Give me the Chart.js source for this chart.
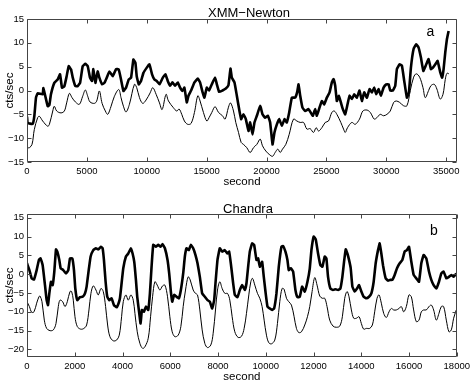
<!DOCTYPE html>
<html><head><meta charset="utf-8">
<script src="https://cdn.jsdelivr.net/npm/chart.js@4"></script>
<style>
html,body{margin:0;padding:0;background:#fff;}
#wrap{position:relative;width:474px;height:384px;background:#fff;}
canvas{position:absolute;left:0;}
</style></head><body>
<div id="wrap">
<canvas id="c1" width="474" height="192" style="top:0;width:474px;height:192px"></canvas>
<canvas id="c2" width="474" height="192" style="top:192px;width:474px;height:192px"></canvas>
</div>
<script>
// ---------- XMM-Newton (panel a) ----------
const xmmThickT = [0,60,470,610,750,890,1310,1365,1530,1730,1870,2000,2280,2560,2760,2920,3120,3310,3480,3680,3820,4040,4230,4430,4650,4870,5070,5260,5430,5540,5710,5900,6040,6270,6460,6660,6880,7160,7440,7660,7850,8050,8270,8490,8690,8880,9050,9160,9330,9520,9720,10000,10220,10440,10640,10830,11060,11340,11560,11750,11950,12140,12360,12590,12780,12980,13140,13340,13480,13700,13980,14260,14450,14650,14810,15010,15200,15430,15700,15850,16040,16320,16600,16820,16990,17100,17320,17520,17710,17880,18070,18270,18490,18630,18830,18990,19190,19470,19660,19880,20110,20300,20500,20660,20860,21050,21280,21500,21690,21890,22110,22390,22560,22670,22810,23000,23230,23500,23780,23865,24060,24199,24420,24617,24810,25034,25260,25452,25592,25731,25870,26037,26204,26370,26566,26760,26928,27123,27318,27540,27764,27960,28154,28376,28599,28794,28989,29156,29351,29546,29769,29992,30187,30326,30549,30744,30883,31106,31300,31495,31718,31885,32053,32275,32498,32693,32888,33090,33334,33529,33724,33887,34086,34281,34503,34660,34781,34921,35060,35200];
const xmmThickV = [-5.5,-6.8,-7,-5.4,-1.5,-0.6,-0.8,0.5,-1.2,-3.3,-3,-0.8,1.6,2.3,3.4,0.6,0.9,3,5.1,4.4,2.7,0.9,0.9,1.6,5.1,5.6,5.1,2.7,2,4.5,1.6,4,2.7,1.3,1.6,2.7,4,3,4.5,4.4,2.3,-0.1,0.6,2.3,2.7,6.5,5.8,3,1.3,2,3.7,4.8,5.5,3.4,2.3,2,1.3,2.7,3.4,2,1,1.7,1,1.7,0.6,-0.1,0.6,-2.5,-1.1,0,1.7,2.5,1.7,-0.3,-1.5,0.6,0,1.3,2.7,1.3,-0.3,0,0.4,1.1,4.6,2.7,1.7,-1.1,-3.9,-6,-5,-6,-8.5,-6.7,-9.2,-6.7,-5.3,-3.2,-5,-5.7,-5.3,-6.7,-11.3,-8.8,-7.1,-6,-7.4,-6,-6.7,-4.6,-1.5,-1.5,-0.3,1.3,-1.1,-3.6,-4.3,-3.9,-5,-5.3,-3.9,-5.3,-3.6,-2.2,-2.9,-1.5,-0.4,1.7,2.4,1,-2.2,-1.1,-2.5,-3.9,-5,-2.9,-1.1,-1.8,-0.8,-1.5,0,-2.2,-0.4,-1.5,0.3,-0.4,0.6,-0.8,0.3,-1.1,0.6,1.3,1.3,0,0,1,4.5,5.5,5.2,2,-1.5,-0.4,4.8,8.7,9.7,9,6.9,4.1,5.5,6.6,4.5,4.8,5.5,6.2,3.8,2.7,4.5,8,10.8,12.5];
const xmmThinT = [0,200,420,610,890,1030,1310,1730,1870,2150,2280,2480,2840,3120,3310,3540,3760,4040,4370,4650,4870,5070,5260,5630,5820,6040,6270,6540,6740,7020,7300,7660,7850,8050,8270,8550,8970,9160,9390,9660,9940,10280,10500,10780,11060,11280,11610,11810,12220,12500,12700,12920,13140,13420,13700,13980,14260,14450,14730,15010,15200,15430,15700,15990,16320,16540,16820,16990,17240,17430,17660,17880,18070,18350,18630,18910,19190,19470,19660,19940,20220,20500,20720,20940,21140,21330,21610,21890,22250,22530,22810,23090,23370,23640,23920,24140,24340,24620,24900,25170,25450,25650,25870,26200,26430,26570,26760,27120,27400,27760,28040,28380,28660,28990,29210,29490,29770,30050,30330,30610,30830,31110,31440,31720,32000,32280,32500,32780,33060,33250,33530,33720,34000,34220,34500,34730,34920,35060,35230];
const xmmThinV = [-12,-12,-11.3,-8.2,-5.7,-5.4,-6.4,-7.5,-7.1,-4.3,-3.3,-4.3,-4.7,-4.3,-2.6,-0.6,-1.5,-2.4,-2.9,-1.2,0.1,-1.2,-2.4,-2.7,-2.2,-0.1,-2.7,-4.3,-5,-3.3,-1.2,0.2,-1.5,-3.3,-4.5,-2.9,1.3,0.6,-1.5,-2.7,-2,-0.5,0.6,-0.8,-2.6,-4,-0.8,-2.2,-3.6,-4.3,-3.9,-5,-6.4,-7.1,-6.9,-4.6,-1.1,-2.2,-4.6,-6.4,-5.7,-4.6,-3.4,-4.6,-5.3,-6,-3.5,-2.6,-4.3,-6.7,-8.8,-10.9,-11.3,-12,-13,-12,-11.3,-10.2,-11.6,-12.7,-13.4,-13.8,-13,-12.3,-13,-12.3,-11.3,-9.2,-6,-6.4,-6.7,-6.7,-8.1,-8,-8.8,-7.8,-8.5,-7.8,-6.7,-6.4,-4.6,-4.3,-5,-6.7,-8.1,-8.8,-7.8,-6.7,-7.1,-6,-4.3,-4.1,-4.6,-6,-5.7,-5,-5.3,-5,-4.3,-2.5,-2.2,-2.5,-3.2,-3.2,0,2.8,3.5,2.8,0.6,-1.5,0,1,1.3,0.3,-1.8,-0.8,2.3,3.6,3.5];
const xmmXTicks = [0,5000,10000,15000,20000,25000,30000,35000];
const xmmYTicks = [-15,-10,-5,0,5,10,15];

// ---------- Chandra (panel b) ----------
const chThickT = [0,100,195,293,405,500,570,656,753,823,880,935,1004,1074,1144,1214,1270,1353,1409,1520,1632,1730,1800,1897,1967,2023,2106,2218,2330,2427,2497,2595,2665,2776,2888,2985,3097,3166,3222,3292,3362,3446,3543,3641,3753,3836,3892,3962,4032,4143,4241,4352,4422,4492,4562,4617,4701,4757,4813,4896,4980,5078,5148,5217,5287,5399,5496,5594,5678,5775,5886,5955,6025,6081,6165,6262,6360,6444,6541,6611,6681,6778,6862,6960,7057,7141,7239,7336,7448,7560,7657,7755,7839,7894,7978,8076,8173,8285,8397,8466,8536,8634,8704,8815,8913,9010,9122,9192,9262,9331,9429,9513,9610,9680,9750,9847,9917,9987,10071,10168,10266,10350,10447,10545,10656,10726,10824,10907,10963,11047,11145,11242,11326,11424,11521,11633,11745,11842,11912,12008,12092,12190,12287,12371,12469,12539,12608,12706,12818,12929,13027,13124,13208,13278,13348,13417,13487,13557,13627,13724,13822,13906,14003,14101,14212,14324,14422,14519,14603,14701,14771,14840,14910,15022,15119,15217,15301,15398,15496,15608,15719,15817,15914,15998,16096,16193,16305,16417,16514,16612,16724,16835,16933,17030,17142,17254,17351,17449,17561,17672,17770,17868,17979];
const chThickV = [2.9,1.1,-1.1,-1.4,1.1,3.8,4.2,2.4,-2.9,-6.9,-8.2,-5.1,-2,-2.9,0.7,6.6,6,3.8,1.6,1.1,0.2,1.1,4.2,4.2,1.1,-3.8,-6.9,-6.1,-6,-5.1,-3.3,1.6,4.7,6.4,6.9,6.6,7.3,6.9,3.8,-2,-6,-6.9,-6.4,-8.2,-8.8,-7.7,-6.4,-2.4,1.6,4.7,5.5,6.9,5.5,3.3,-1.5,-6,-10.4,-13.1,-9.5,-10,-8.6,-9.5,-5.1,2,7.8,7.3,7.8,7.3,8,6.9,3.8,0.2,-4.6,-7.3,-5.5,-6,-6.4,-4.2,0.2,4.7,6.9,6.4,7.8,6.9,5.1,2.9,-0.7,-5.1,-6,-6.9,-7.3,-9.1,-6.9,-2.4,3.8,6.9,6,6.4,5.5,6,2.9,-2.4,-5.5,-6.1,-4.2,-2.9,-4.2,-2.4,2,6,8.2,7.8,3.8,4.2,2,3.3,-0.7,-4.6,-8.6,-9.1,-9.5,-9.1,-5.1,2,7.3,7.5,6,3.8,1.1,1.6,0.7,-4.2,-6.1,-6,-3.3,-4.6,-2,1.5,6.4,10,9.3,5.5,2.4,2,4.7,4.2,-0.7,-3.8,-4.2,-4,-4.2,-3.8,-0.7,3.3,6.6,5.5,3.8,1.6,-3.3,-4.6,-3.8,-2.9,-4.6,-6,-6.4,-6,-5.1,-2,2.9,6.4,8.2,5.5,2.4,-1.1,-1.7,-1.5,-1.5,-0.2,1.6,2.9,3.8,6,6.4,7.3,3.3,-0.2,-1.1,-2,2.9,5.1,4.2,0.7,-1.5,-2.9,-3.8,-2,0.2,0.7,-1.1,-0.7,-0.2,-0.7,0.2];
const chThinT = [0,100,195,293,405,500,545,628,725,823,963,1102,1214,1311,1381,1493,1590,1688,1800,1869,1939,2009,2106,2246,2385,2497,2595,2678,2776,2888,2985,3097,3194,3292,3376,3473,3613,3753,3864,3962,4032,4143,4241,4352,4450,4520,4617,4729,4840,4938,5078,5175,5259,5357,5454,5566,5678,5775,5886,5983,6081,6193,6332,6444,6541,6639,6750,6834,6960,7057,7141,7239,7336,7448,7560,7699,7797,7894,7978,8076,8173,8285,8397,8494,8592,8704,8843,8983,9094,9192,9290,9373,9443,9541,9652,9750,9847,9931,10029,10126,10238,10377,10489,10587,10684,10768,10866,10963,11075,11187,11284,11382,11494,11633,11745,11842,11940,12050,12148,12260,12371,12469,12566,12678,12818,12957,13097,13208,13306,13403,13487,13585,13682,13794,13906,14003,14101,14212,14352,14464,14561,14659,14743,14840,14938,15050,15161,15259,15357,15468,15580,15677,15775,15887,15998,16096,16193,16305,16417,16514,16612,16724,16835,16933,17030,17142,17254,17351,17449,17561,17672,17770,17868,17979];
const chThinV = [-7.3,-8.6,-10.1,-10,-7.7,-6,-5.8,-7.3,-12.2,-14.4,-15,-14.8,-13.1,-8.6,-6.9,-7.3,-8.6,-7.3,-4.6,-4.6,-6.9,-11.3,-13.9,-14.6,-14.4,-13.5,-9.5,-5.1,-3.1,-4.2,-5.5,-3.8,-4.6,-8.6,-13.5,-16.6,-17.7,-17.5,-16.2,-11.3,-7.3,-5.5,-6.9,-5.5,-6.9,-10.4,-15.3,-18.4,-19.7,-19.3,-17,-11.3,-6,-2,-2.9,-4.2,-3.1,-2.9,-6,-11.3,-15.3,-16.6,-16.2,-13.9,-8.6,-4.2,-0.7,-1.5,-4.2,-5.1,-5.5,-9.5,-14.8,-18.4,-19.5,-18.8,-15.7,-9.5,-4.2,-2,-3.8,-5.1,-5.1,-6.9,-11.3,-15.3,-16.8,-16.5,-14.4,-10.4,-5.5,-2,-1.1,-2.9,-5.1,-6.4,-8.6,-12.2,-16.2,-18.2,-18.5,-17.5,-13.1,-7.3,-3.8,-4,-6.4,-7.3,-8.2,-11.3,-14.4,-15.5,-15.3,-13.5,-11.3,-8.6,-4.6,-0.9,-2.9,-5.8,-6.4,-6.4,-8.6,-12.2,-13.8,-14.1,-13.8,-11.3,-6.4,-4.6,-6,-9.5,-11.7,-11.7,-11.3,-13.1,-14.6,-14.4,-14.4,-13.5,-10,-6.4,-5.5,-7.7,-10.4,-11.5,-10,-9.1,-9.5,-9.5,-9.1,-8.6,-10,-8.6,-5.5,-6,-9.5,-12.6,-12.2,-10,-9.5,-9.5,-8.6,-8.2,-9.5,-12.2,-10.4,-8.6,-8.6,-12.2,-15.3,-14.8,-11.7,-9.5];
const chXTicks = [0,2000,4000,6000,8000,10000,12000,14000,16000,18000];
const chYTicks = [-20,-15,-10,-5,0,5,10,15];

const FONT = '"Liberation Sans", Arial, Helvetica, sans-serif';
const pts = (t, v) => t.map((x, i) => ({x: x, y: v[i]}));
const fmt = v => (v < 0 ? '\u2212' + Math.abs(v) : String(v));

const framePlugin = {
  id: 'frame',
  afterDraw(chart, args, o) {
    const ctx = chart.ctx;
    const a = chart.chartArea;
    const L = Math.round(a.left) + 0.5, R = Math.round(a.right) - 0.5;
    const T = Math.round(a.top) + 0.5, B = Math.round(a.bottom) - 0.5;
    ctx.save();
    ctx.strokeStyle = '#444';
    ctx.lineWidth = 1;
    ctx.beginPath();
    ctx.rect(L, T, R - L, B - T);
    const tl = 4;
    chart.scales.x.ticks.forEach(t => {
      const px = Math.round(chart.scales.x.getPixelForValue(t.value)) + 0.5;
      ctx.moveTo(px, B); ctx.lineTo(px, B - tl);
      ctx.moveTo(px, T); ctx.lineTo(px, T + tl);
    });
    chart.scales.y.ticks.forEach(t => {
      const py = Math.round(chart.scales.y.getPixelForValue(t.value)) + 0.5;
      ctx.moveTo(L, py); ctx.lineTo(L + tl, py);
      ctx.moveTo(R, py); ctx.lineTo(R - tl, py);
    });
    ctx.stroke();
    ctx.fillStyle = '#000';
    ctx.textAlign = 'center';
    ctx.textBaseline = 'alphabetic';
    ctx.font = '13px ' + FONT;
    ctx.fillText(o.title, o.titleX, o.titleY);
    ctx.font = '11.5px ' + FONT;
    ctx.fillText('second', (a.left + a.right) / 2, o.xlabY);
    ctx.save();
    ctx.translate(13, (a.top + a.bottom) / 2);
    ctx.rotate(-Math.PI / 2);
    ctx.fillText('cts/sec', 0, 0);
    ctx.restore();
    ctx.font = '14px ' + FONT;
    ctx.fillText(o.letter, o.letterX, o.letterY);
    ctx.restore();
  }
};

function makeChart(id, cfg) {
  return new Chart(document.getElementById(id), {
    type: 'line',
    data: {
      datasets: [
        {data: pts(cfg.thickT, cfg.thickV), borderColor: '#000', borderWidth: 2.6, pointRadius: 0, tension: 0.1, fill: false},
        {data: pts(cfg.thinT, cfg.thinV), borderColor: '#000', borderWidth: 1, pointRadius: 0, tension: 0.35, fill: false}
      ]
    },
    options: {
      responsive: false,
      animation: false,
      events: [],
      layout: {padding: {left: 0, right: 17, top: cfg.padTop, bottom: 0}},
      plugins: {legend: {display: false}, tooltip: {enabled: false}, title: {display: false},
        frame: cfg.frame},
      scales: {
        x: {
          type: 'linear', min: 0, max: cfg.xMax,
          afterBuildTicks: s => { s.ticks = cfg.xTicks.map(v => ({value: v})); },
          afterFit: s => { s.height = cfg.xAxisH; },
          grid: {display: false, drawTicks: false},
          border: {display: false},
          ticks: {color: '#000', font: {family: FONT, size: 9.5}, padding: 4, maxRotation: 0, autoSkip: false, callback: fmt}
        },
        y: {
          min: cfg.yMin, max: cfg.yMax,
          afterBuildTicks: s => { s.ticks = cfg.yTicks.map(v => ({value: v})); },
          afterFit: s => { s.width = 27; },
          grid: {display: false, drawTicks: false},
          border: {display: false},
          ticks: {color: '#000', font: {family: FONT, size: 9.5}, padding: 3, callback: fmt}
        }
      }
    },
    plugins: [framePlugin]
  });
}

makeChart('c1', {
  thickT: xmmThickT, thickV: xmmThickV, thinT: xmmThinT, thinV: xmmThinV,
  xMax: 35900, xTicks: xmmXTicks, yMin: -15, yMax: 15, yTicks: xmmYTicks,
  padTop: 19, xAxisH: 30,
  frame: {title: 'XMM\u2212Newton', titleX: 249, titleY: 16.5, xlabY: 185, letter: 'a', letterX: 430.5, letterY: 36}
});
makeChart('c2', {
  thickT: chThickT, thickV: chThickV, thinT: chThinT, thinV: chThinV,
  xMax: 18000, xTicks: chXTicks, yMin: -22, yMax: 16, yTicks: chYTicks,
  padTop: 22, xAxisH: 27,
  frame: {title: 'Chandra', titleX: 248, titleY: 21, xlabY: 188, letter: 'b', letterX: 434, letterY: 43}
});
</script>
</body></html>
